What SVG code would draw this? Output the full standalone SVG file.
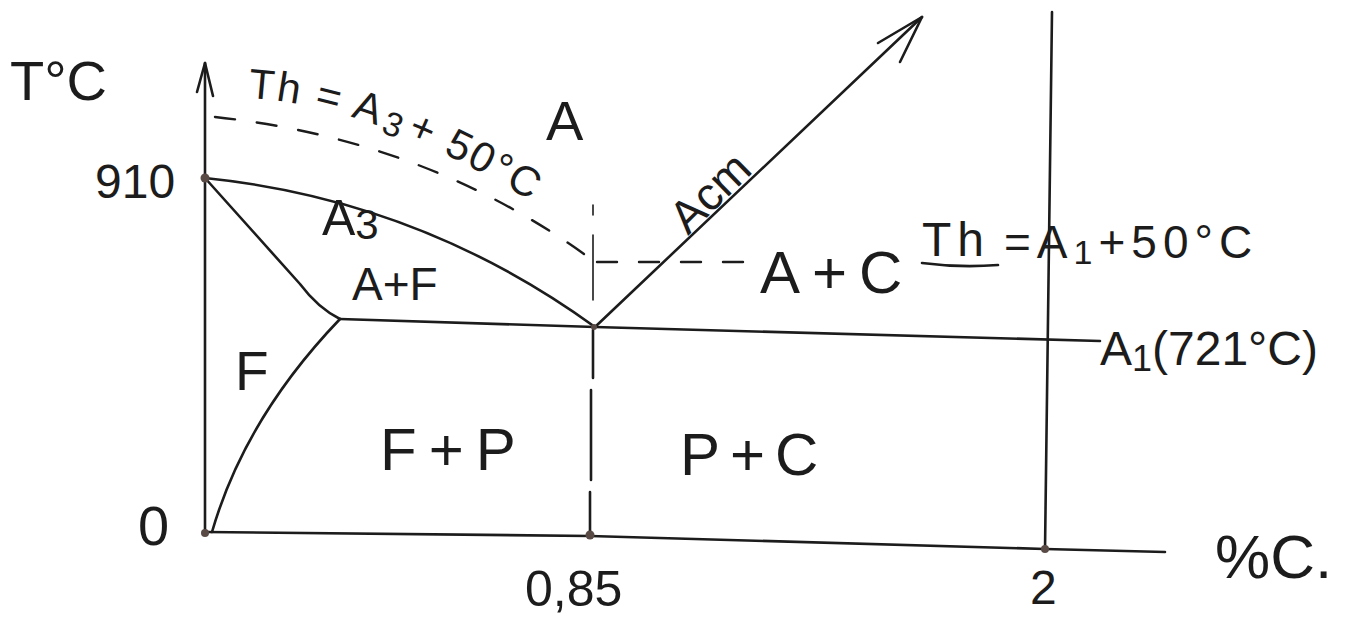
<svg xmlns="http://www.w3.org/2000/svg" width="1349" height="620" viewBox="0 0 1349 620">
<defs>
<style>
.ln{fill:none;stroke:#1c1c1c;stroke-width:2.6;stroke-linecap:round;stroke-linejoin:round}
.thin{fill:none;stroke:#1c1c1c;stroke-width:1.6;stroke-linecap:round}
.dash{fill:none;stroke:#1c1c1c;stroke-width:2.4;stroke-dasharray:20 22;stroke-linecap:round}
.t{font-family:"Liberation Sans",Arial,sans-serif;fill:#1c1c1c}
.dot{fill:#5a4a45}
</style>
<path id="tp1" d="M248,98 Q380,105 548,212"/>
</defs>
<rect width="1349" height="620" fill="#ffffff"/>
<g id="axes">
<path class="ln" d="M205,534 L205,63"/>
<path class="ln" d="M197,92 L205,63 L213,96"/>
<path class="ln" d="M205,532 L590,536 L1045,549 L1165,552"/>
<path class="ln" d="M1052,12 L1045,550"/>
</g>
<g id="connectors">
<path id="a3-curve" class="ln" d="M205,178 Q420,200 595,327"/>
<path id="gs-line" class="ln" d="M205,178 L300,284 Q318,308 340,319"/>
<path id="pq-curve" class="ln" d="M212,532 Q245,418 340,319"/>
<path id="a1-line" class="ln" d="M340,319 L595,327 L1100,341"/>
<path id="acm-line" class="ln" d="M595,327 L922,17"/>
<path class="ln" d="M878,43 L922,17 L900,62"/>
<path id="eutectoid-v-top" class="thin" d="M593,205 L593,215 M593,235 L593,300"/>
<path id="eutectoid-v" class="ln" d="M593,330 L593,378 M591,390 L591,480 M590,492 L590,535"/>
<path id="th-a3" class="dash" d="M215,117 Q430,140 595,262"/>
<path id="th-a1" class="dash" d="M597,262 L760,262"/>
<path class="ln" d="M922,263 Q960,268 998,265"/>
</g>
<g id="points">
<circle class="dot" cx="205" cy="178" r="4.5"/>
<circle class="dot" cx="205" cy="533" r="4"/>
<circle class="dot" cx="590" cy="535" r="4.5"/>
<circle class="dot" cx="1045" cy="549" r="4"/>
<circle class="dot" cx="594" cy="327" r="3"/>
</g>
<g id="labels">
<text class="t" x="10" y="100" font-size="56">T°C</text>
<text class="t" x="95" y="198" font-size="48">910</text>
<text class="t" x="138" y="545" font-size="56">0</text>
<text class="t" x="546" y="140" font-size="56">A</text>
<text class="t" x="322" y="235" font-size="50">A<tspan font-size="42" dy="4">3</tspan></text>
<text class="t" x="352" y="300" font-size="46">A+F</text>
<text class="t" x="235" y="390" font-size="55">F</text>
<text class="t" x="380" y="470" font-size="60" letter-spacing="12">F+P</text>
<text class="t" x="680" y="475" font-size="60" letter-spacing="10">P+C</text>
<text class="t" x="760" y="293" font-size="60" letter-spacing="12">A+C</text>
<text class="t" font-size="42" letter-spacing="2"><textPath href="#tp1">Th = A<tspan font-size="34" dx="3" dy="5">3</tspan><tspan dx="5" dy="-5">+ 50°C</tspan></textPath></text>
<text class="t" x="688" y="236" font-size="46" transform="rotate(-44.3 688 236)">Acm</text>
<text class="t" x="922" y="256" font-size="48" letter-spacing="6">Th</text>
<text class="t" x="1004" y="258" font-size="46" letter-spacing="6">=A<tspan font-size="34" dy="6">1</tspan><tspan dy="-6">+50°C</tspan></text>
<text class="t" x="1100" y="365" font-size="48">A<tspan font-size="36" dy="6">1</tspan><tspan dy="-6">(721°C)</tspan></text>
<text class="t" x="525" y="606" font-size="50">0,85</text>
<text class="t" x="1030" y="604" font-size="48">2</text>
<text class="t" x="1215" y="578" font-size="62">%C.</text>
</g>
</svg>
